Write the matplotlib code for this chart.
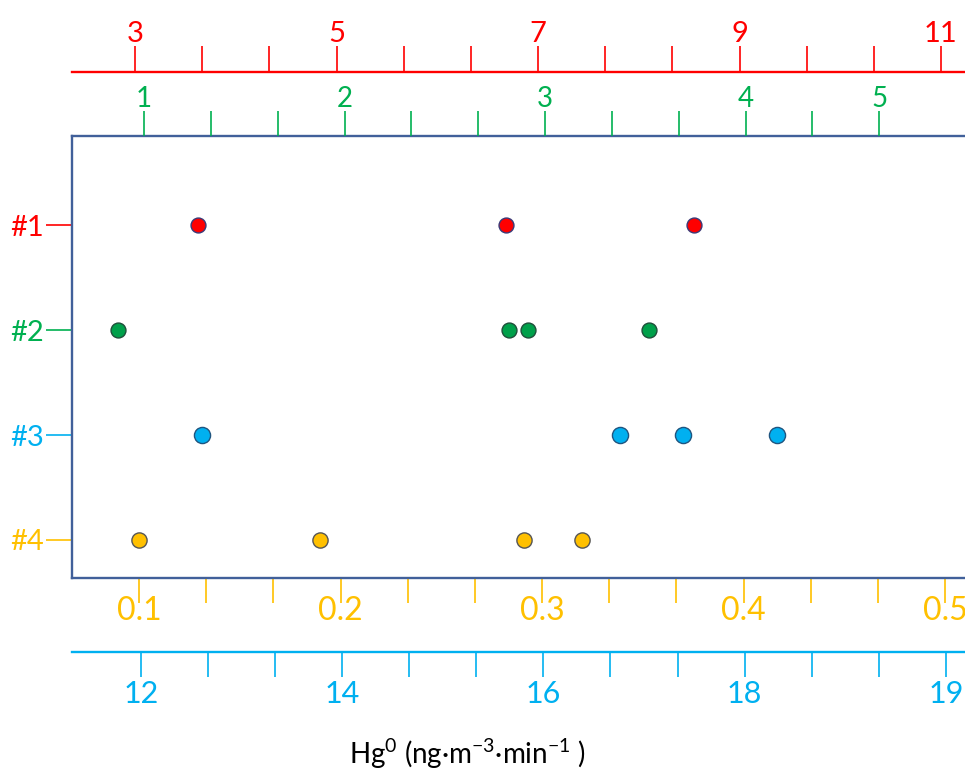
import numpy as np
import matplotlib
matplotlib.use('Agg')
import matplotlib.pyplot as plt
from matplotlib.ticker import FixedLocator, FixedFormatter

plt.rcParams['font.family'] = ['Lato', 'DejaVu Sans']
plt.rcParams['mathtext.fontset'] = 'custom'
plt.rcParams['mathtext.rm'] = 'Lato'
plt.rcParams['mathtext.it'] = 'Lato:italic'

# rows (samples)
row_labels = ['#1', '#2', '#3', '#4']
row_pos = [1, 2, 3, 4]

# points, each row read on its own scale
red_x = [3.63, 6.68, 8.55]             # #1, red scale (top)
green_x = [0.87, 2.82, 2.915, 3.52]    # #2, green scale (top, on box)
blue_x = [12.61, 16.76, 17.39, 18.32]  # #3, blue scale (bottom)
orange_x = [0.100, 0.190, 0.291, 0.320]  # #4, orange scale (bottom, on box)

# tick labels as drawn
red_ticks = [3, 5, 7, 9, 11]
red_labels = ['3', '5', '7', '9', '11']
green_ticks = [1, 2, 3, 4, 14 / 3]
green_labels = ['1', '2', '3', '4', '5']
orange_ticks = [0.1, 0.2, 0.3, 0.4, 0.5]
orange_labels = ['0.1', '0.2', '0.3', '0.4', '0.5']
blue_ticks = [12, 14, 16, 18, 20]
blue_labels = ['12', '14', '16', '18', '19']

RED = '#FF0000'
GREEN = '#00B050'
BLUE = '#00B0F0'
ORANGE = '#FFC000'
BOX = '#41609A'

fig = plt.figure(figsize=(9.65, 7.71), dpi=100)
W, H = 965, 771
left_px, right_px, top_px, bot_px = 72, 1010, 136, 578
ax = fig.add_axes([left_px / W, (H - bot_px) / H,
                   (right_px - left_px) / W, (bot_px - top_px) / H])


# pixel calibration of each scale: value = v0 + (px - p0) / k
def lims(v0, p0, k):
    return (v0 + (left_px - p0) / k, v0 + (right_px - p0) / k)


# base axes = orange scale + box + rows
ax.set_xlim(*lims(0.1, 139, 2015))
ax.set_ylim(4.362, 0.152)
for s in ['left', 'top', 'bottom']:
    ax.spines[s].set_color(BOX)
    ax.spines[s].set_linewidth(1.7)
ax.spines['right'].set_visible(False)

ax.set_yticks(row_pos, row_labels)
ax.tick_params(axis='y', length=19, width=1.2, pad=1, labelsize=21)
for t, c in zip(ax.yaxis.get_major_ticks(), [RED, GREEN, BLUE, ORANGE]):
    t.tick1line.set_color(c)
    t.tick1line.set_markeredgecolor(c)
    t.label1.set_color(c)

ax.xaxis.set_major_locator(FixedLocator(orange_ticks))
ax.xaxis.set_major_formatter(FixedFormatter(orange_labels))
ax.xaxis.set_minor_locator(FixedLocator(np.arange(0.1, 0.501, 1 / 30)))
ax.tick_params(axis='x', which='both', colors=ORANGE, length=18, width=1.2,
               pad=-5, labelsize=23)

# green scale on box top
ax_g = ax.twiny()
for s in ax_g.spines.values():
    s.set_visible(False)
ax_g.set_xlim(*lims(1, 144, 200.5))
ax_g.xaxis.set_major_locator(FixedLocator(green_ticks))
ax_g.xaxis.set_major_formatter(FixedFormatter(green_labels))
ax_g.xaxis.set_minor_locator(FixedLocator(np.arange(1, 4.7, 1 / 3)))
ax_g.tick_params(axis='x', which='both', colors=GREEN, length=18, width=1.2,
                 pad=-1, labelsize=20)

# red scale above
ax_r = ax.twiny()
for s in ['left', 'right', 'bottom']:
    ax_r.spines[s].set_visible(False)
ax_r.spines['top'].set_position(('axes', (bot_px - 72) / (bot_px - top_px)))
ax_r.spines['top'].set_color(RED)
ax_r.spines['top'].set_linewidth(1.7)
ax_r.set_xlim(*lims(3, 135, 100.75))
ax_r.xaxis.set_major_locator(FixedLocator(red_ticks))
ax_r.xaxis.set_major_formatter(FixedFormatter(red_labels))
ax_r.xaxis.set_minor_locator(FixedLocator(np.arange(3, 11.01, 2 / 3)))
ax_r.tick_params(axis='x', which='both', colors=RED, length=19, width=1.2,
                 pad=-1, labelsize=21)

# blue scale below
ax_b = ax.twiny()
for s in ['left', 'right', 'top']:
    ax_b.spines[s].set_visible(False)
ax_b.xaxis.set_ticks_position('bottom')
ax_b.xaxis.set_label_position('bottom')
ax_b.spines['bottom'].set_visible(True)
ax_b.spines['bottom'].set_position(('axes', (bot_px - 652) / (bot_px - top_px)))
ax_b.spines['bottom'].set_color(BLUE)
ax_b.spines['bottom'].set_linewidth(1.7)
ax_b.set_xlim(*lims(12, 141, 100.6))
ax_b.xaxis.set_major_locator(FixedLocator(blue_ticks))
ax_b.xaxis.set_major_formatter(FixedFormatter(blue_labels))
ax_b.xaxis.set_minor_locator(FixedLocator(np.arange(12, 20.01, 2 / 3)))
ax_b.tick_params(axis='x', which='both', colors=BLUE, length=18, width=1.2,
                 pad=2, labelsize=22)

# points
ax_r.scatter(red_x, [row_pos[0]] * len(red_x), s=115, c=RED,
             edgecolors='#3A3A78', linewidths=1, zorder=5, clip_on=False)
ax_g.scatter(green_x, [row_pos[1]] * len(green_x), s=115, c='#00A04A',
             edgecolors='#1F4F3A', linewidths=1, zorder=5, clip_on=False)
ax_b.scatter(blue_x, [row_pos[2]] * len(blue_x), s=135, c=BLUE,
             edgecolors='#1F5580', linewidths=1, zorder=5, clip_on=False)
ax.scatter(orange_x, [row_pos[3]] * len(orange_x), s=120, c=ORANGE,
           edgecolors='#555555', linewidths=1, zorder=5, clip_on=False)

fig.text(467 / W, 1 - 764 / H, r'Hg$^{0}$ (ng·m$^{-3}$·min$^{-1}$ )',
         ha='center', va='baseline', fontsize=20, color='black')

fig.savefig('out.png', dpi=100)
